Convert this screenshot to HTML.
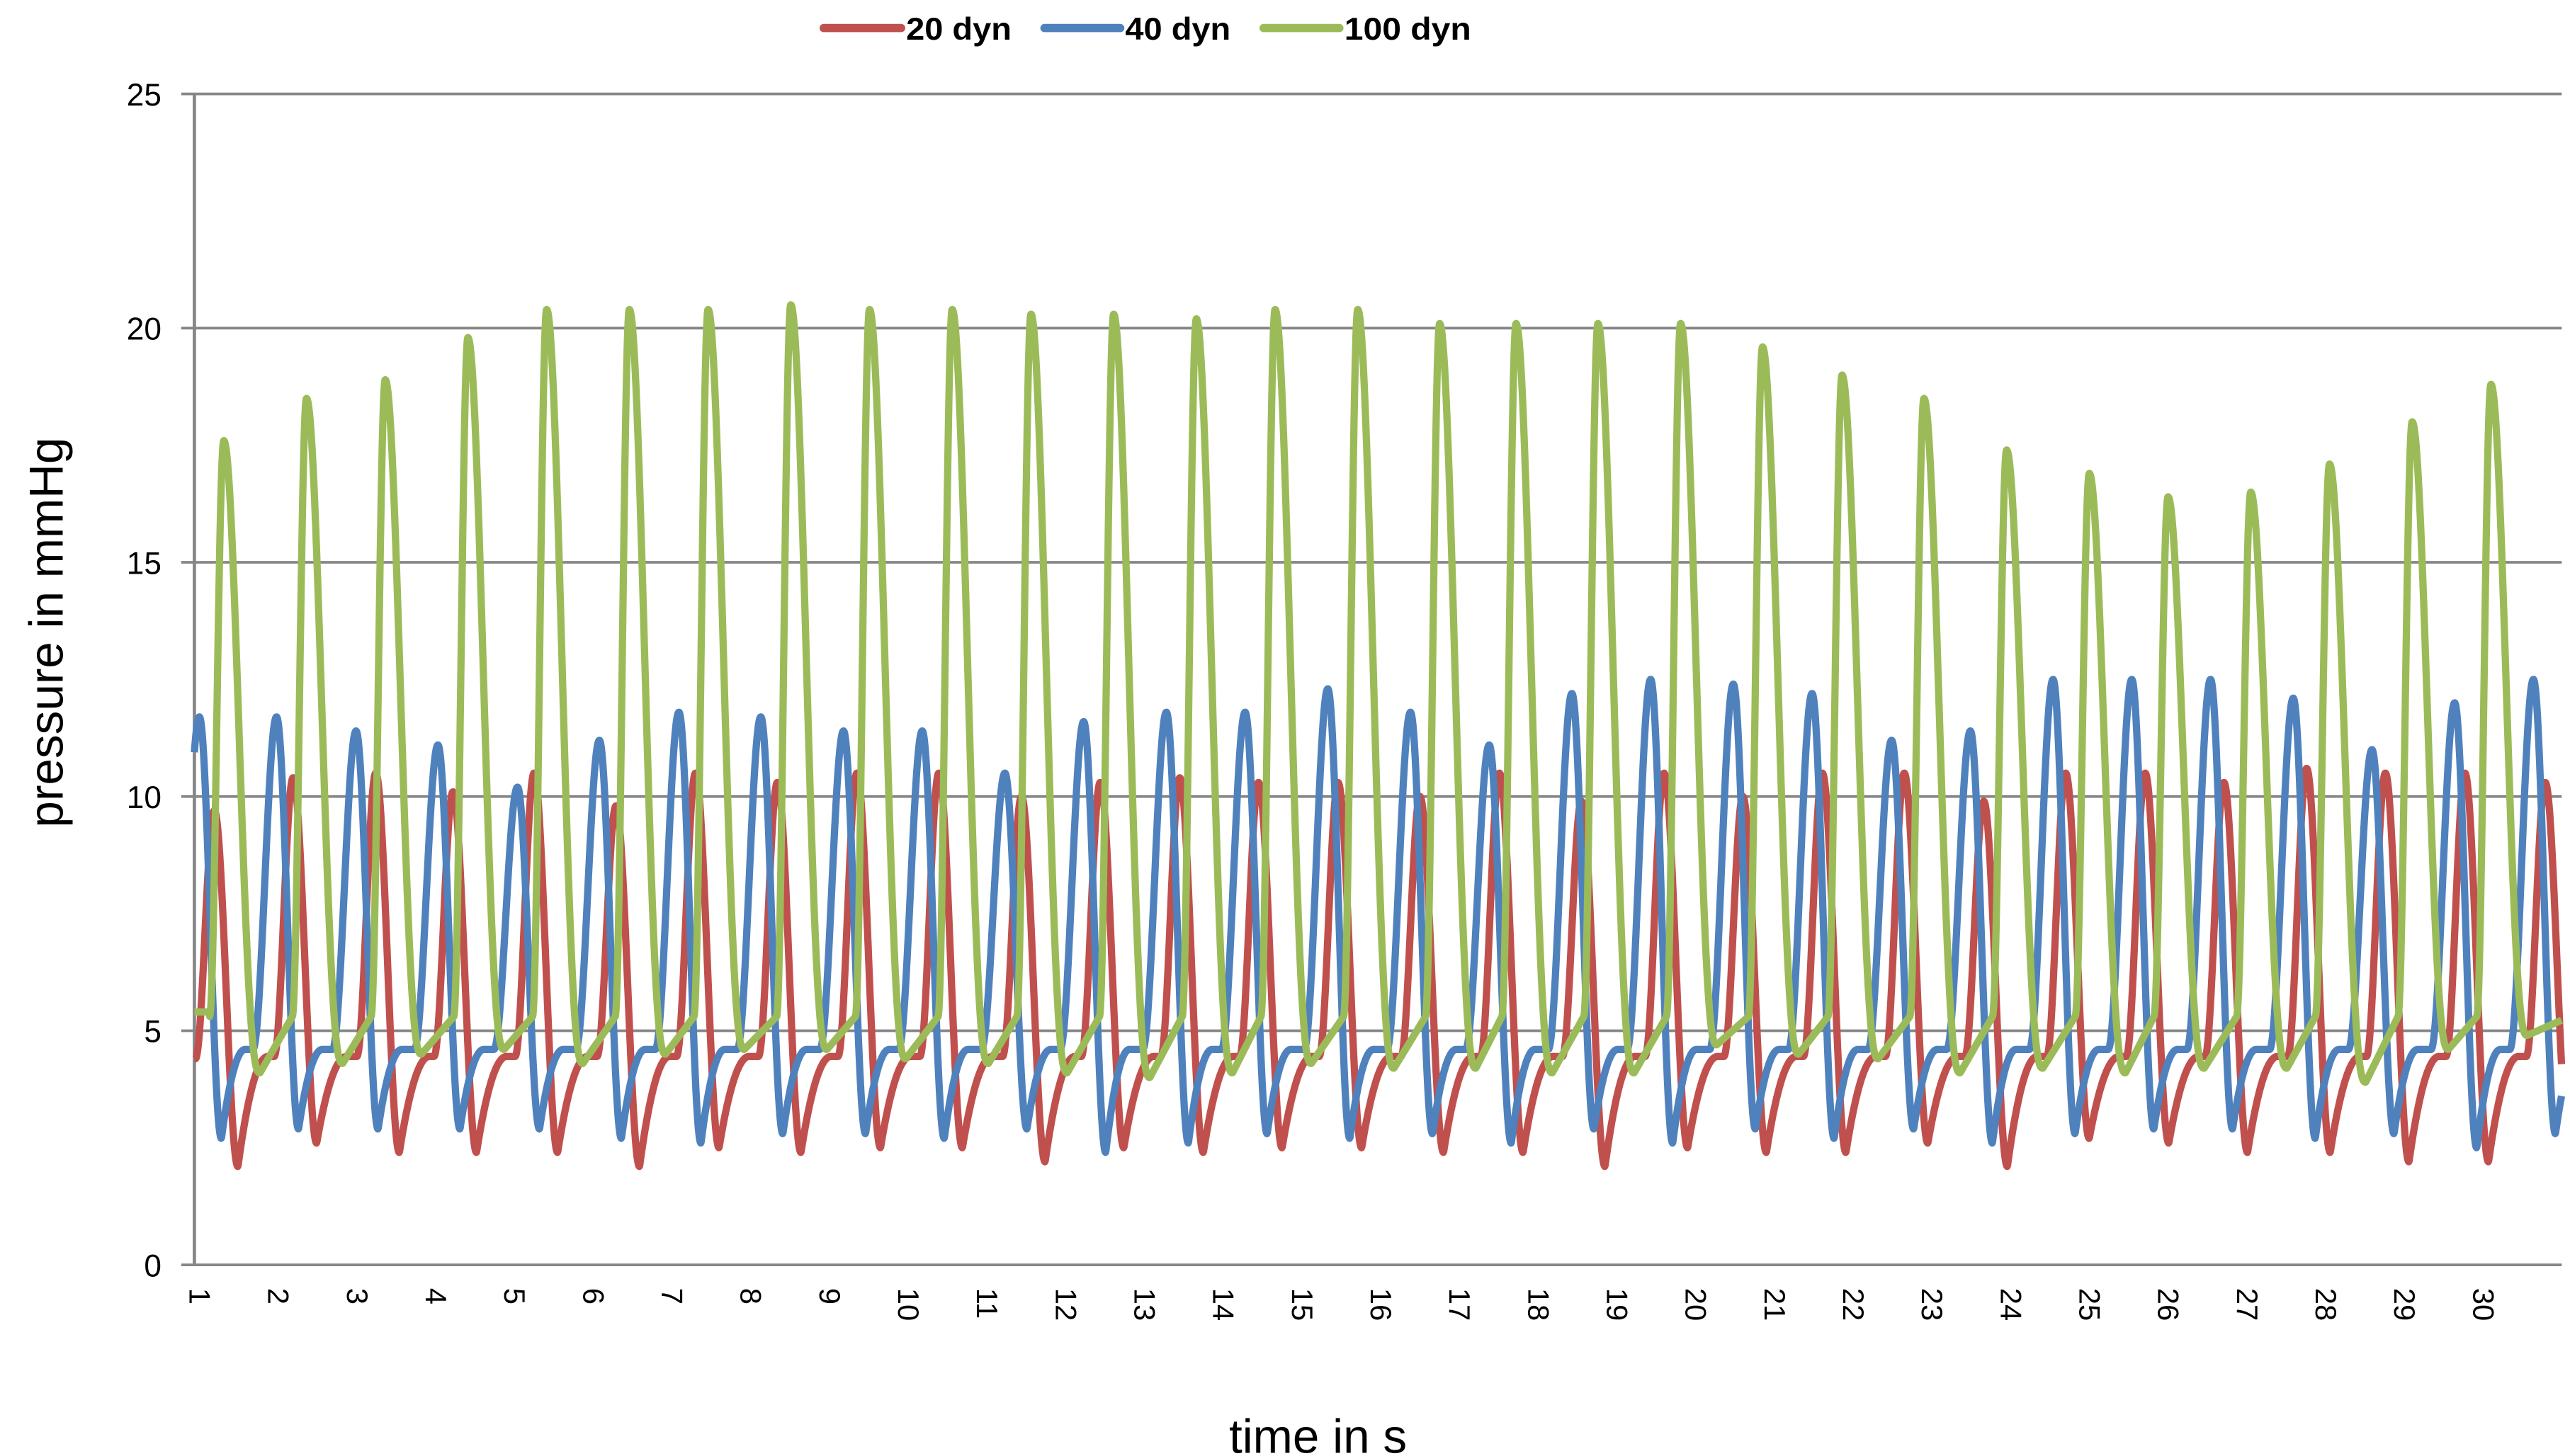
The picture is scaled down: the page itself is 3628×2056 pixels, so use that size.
<!DOCTYPE html>
<html><head><meta charset="utf-8"><style>
html,body{margin:0;padding:0;background:#fff;}
svg{display:block;font-family:"Liberation Sans",sans-serif;}
</style></head><body>
<svg id="chart" width="3628" height="2056" viewBox="0 0 1560 884" xmlns="http://www.w3.org/2000/svg">
<g id="grid"></g>
<g id="axes"></g>
<g id="series"></g>
<g id="legend">
 <g><line x1="500" y1="17" x2="547" y2="17" stroke="#C0504D" stroke-width="5" stroke-linecap="round"/><text x="550" y="24" font-size="19" font-weight="bold" textLength="64" lengthAdjust="spacingAndGlyphs">20 dyn</text></g>
 <g><line x1="634" y1="17" x2="680" y2="17" stroke="#4F81BD" stroke-width="5" stroke-linecap="round"/><text x="683" y="24" font-size="19" font-weight="bold" textLength="64" lengthAdjust="spacingAndGlyphs">40 dyn</text></g>
 <g><line x1="767" y1="17" x2="813" y2="17" stroke="#9BBB59" stroke-width="5" stroke-linecap="round"/><text x="816" y="24" font-size="19" font-weight="bold" textLength="77" lengthAdjust="spacingAndGlyphs">100 dyn</text></g>
</g>
<text transform="translate(38,384) rotate(-90)" text-anchor="middle" font-size="29">pressure in mmHg</text>
<text x="800" y="882" text-anchor="middle" font-size="29">time in s</text>
</svg>
<script>
const yTicks = [0,5,10,15,20,25];
const xTickLabels = [1,2,3,4,5,6,7,8,9,10,11,12,13,14,15,16,17,18,19,20,21,22,23,24,25,26,27,28,29,30];
// 100 dyn (green)
const greenPeakT = [1.31,2.36,3.36,4.41,5.41,6.46,7.46,8.51,9.51,10.56,11.56,12.61,13.66,14.66,15.71,16.75,17.72,18.76,19.81,20.85,21.86,22.90,23.95,25.00,26.00,27.05,28.05,29.10,30.10];
const greenPeakV = [17.6,18.5,18.9,19.8,20.4,20.4,20.4,20.5,20.4,20.4,20.3,20.3,20.2,20.4,20.4,20.1,20.1,20.1,20.1,19.6,19.0,18.5,17.4,16.9,16.4,16.5,17.1,18.0,18.8];
const greenTroughV = [4.1,4.3,4.5,4.6,4.3,4.5,4.6,4.6,4.4,4.3,4.1,4.0,4.1,4.3,4.2,4.2,4.1,4.1,4.7,4.5,4.4,4.1,4.2,4.1,4.2,4.2,3.9,4.6,4.9];
// 40 dyn (blue)
const bluePeakT = [1.00,1.98,2.99,4.03,5.04,6.08,7.09,8.13,9.18,10.18,11.23,12.23,13.28,14.28,15.33,16.38,17.38,18.43,19.43,20.48,21.48,22.49,23.49,24.54,25.54,26.54,27.59,28.59,29.64,30.64];
const bluePeakV = [11.7,11.7,11.4,11.1,10.2,11.2,11.8,11.7,11.4,11.4,10.5,11.6,11.8,11.8,12.3,11.8,11.1,12.2,12.5,12.4,12.2,11.2,11.4,12.5,12.5,12.5,12.1,11.0,12.0,12.5];
const blueTroughV = [2.7,2.9,2.9,2.9,2.9,2.7,2.6,2.8,2.8,2.7,2.9,2.4,2.6,2.8,2.7,2.8,2.6,2.9,2.6,2.9,2.7,2.9,2.6,2.8,2.9,2.9,2.7,2.8,2.5,2.8];
// 20 dyn (red)
const redPeakT = [1.19,2.19,3.24,4.22,5.25,6.29,7.30,8.34,9.35,10.39,11.44,12.44,13.45,14.45,15.46,16.50,17.51,18.55,19.60,20.60,21.61,22.65,23.66,24.70,25.71,26.71,27.76,28.76,29.77,30.79];
const redPeakV = [9.7,10.4,10.5,10.1,10.5,9.8,10.5,10.3,10.5,10.5,10.0,10.3,10.4,10.3,10.3,10.0,10.5,9.9,10.5,10.0,10.5,10.5,9.9,10.5,10.5,10.3,10.6,10.5,10.5,10.3];
const redTroughV = [2.1,2.6,2.4,2.4,2.4,2.1,2.5,2.4,2.5,2.5,2.2,2.5,2.4,2.5,2.5,2.4,2.4,2.1,2.5,2.4,2.4,2.6,2.1,2.7,2.6,2.4,2.4,2.2,2.2,2.6];

const NS='http://www.w3.org/2000/svg';
const L=118,R=1555,T=57,B=768;
const tMin=0.937,tMax=31.0;
const xs=t=>L+(t-tMin)/(tMax-tMin)*(R-L);
const ys=v=>B-v/25*(B-T);
function mk(tag,attrs,parent){const e=document.createElementNS(NS,tag);for(const k in attrs)e.setAttribute(k,attrs[k]);parent.appendChild(e);return e;}
const grid=document.getElementById('grid'),axes=document.getElementById('axes'),ser=document.getElementById('series');
yTicks.forEach(v=>{
  const ln=mk('line',{x1:L-8,x2:R,y1:ys(v),y2:ys(v),stroke:'#868686','stroke-width':1.6},grid);
  
  
  const tx=mk('text',{x:98,y:ys(v)+7,'text-anchor':'end','font-size':19},axes);
  tx.textContent=v;
  
  
});
const ya=mk('line',{x1:L,x2:L,y1:T,y2:B,stroke:'#868686','stroke-width':2},axes);


xTickLabels.forEach(n=>{
  const x=xs(n);
  const tx=mk('text',{transform:`translate(${x-6},782) rotate(90)`,'font-size':18},axes);
  tx.textContent=n;
  
  
});
function wave(peakT,peakV,troughV,plateau,fall,rec,rise,firstPlateau){
  return t=>{
    let i=-1;for(let k=0;k<peakT.length;k++){if(peakT[k]<=t)i=k;}
    const nxt=i+1<peakT.length?i+1:-1;
    if(nxt>=0&&t>peakT[nxt]-rise){
      const s=(t-(peakT[nxt]-rise))/rise;
      const base=i<0?firstPlateau:plateau;
      return base+(peakV[nxt]-base)*(1-Math.cos(Math.PI*s))/2;
    }
    if(i<0)return firstPlateau;
    const dt=t-peakT[i];
    if(dt<fall){const s=dt/fall;return troughV[i]+(peakV[i]-troughV[i])*(1+Math.cos(Math.PI*s))/2;}
    if(dt<fall+rec){const s=(dt-fall)/rec;return troughV[i]+(plateau-troughV[i])*(1-Math.pow(1-s,2));}
    return plateau;
  };
}
function greenWave(t){
  let i=-1;for(let k=0;k<greenPeakT.length;k++){if(greenPeakT[k]<=t)i=k;}
  const nxt=i+1<greenPeakT.length?i+1:-1;const rise=0.18,fall=0.46;
  if(nxt>=0&&t>greenPeakT[nxt]-rise){const s=(t-(greenPeakT[nxt]-rise))/rise;return 5.3+(greenPeakV[nxt]-5.3)*(1-Math.cos(Math.PI*s))/2;}
  if(i<0)return 5.4;
  const dt=t-greenPeakT[i];
  if(dt<fall){const s=dt/fall;const P=greenPeakV[i],Tr=greenTroughV[i];return Tr+(P-Tr)*Math.pow((1+Math.cos(Math.PI*s))/2,1.3);}
  const end=nxt>=0?greenPeakT[nxt]-rise:greenPeakT[i]+1;
  const s=Math.min(1,(t-(greenPeakT[i]+fall))/Math.max(0.05,end-(greenPeakT[i]+fall)));
  return greenTroughV[i]+(5.3-greenTroughV[i])*s;
}
function draw(fn,color,name){
  let d='';
  for(let t=tMin;t<=tMax;t+=0.005){const v=fn(t);d+=(d?'L':'M')+xs(t).toFixed(2)+','+ys(v).toFixed(2);}
  const p=mk('path',{d:d,fill:'none',stroke:color,'stroke-width':4.4,'stroke-linejoin':'round'},ser);
  
  
}
draw(wave(redPeakT,redPeakV,redTroughV,4.45,0.3,0.38,0.24,4.4),'#C0504D','series-20-dyn');
draw(wave(bluePeakT,bluePeakV,blueTroughV,4.6,0.28,0.3,0.3,4.5),'#4F81BD','series-40-dyn');
draw(greenWave,'#9BBB59','series-100-dyn');
</script>
</body></html>
